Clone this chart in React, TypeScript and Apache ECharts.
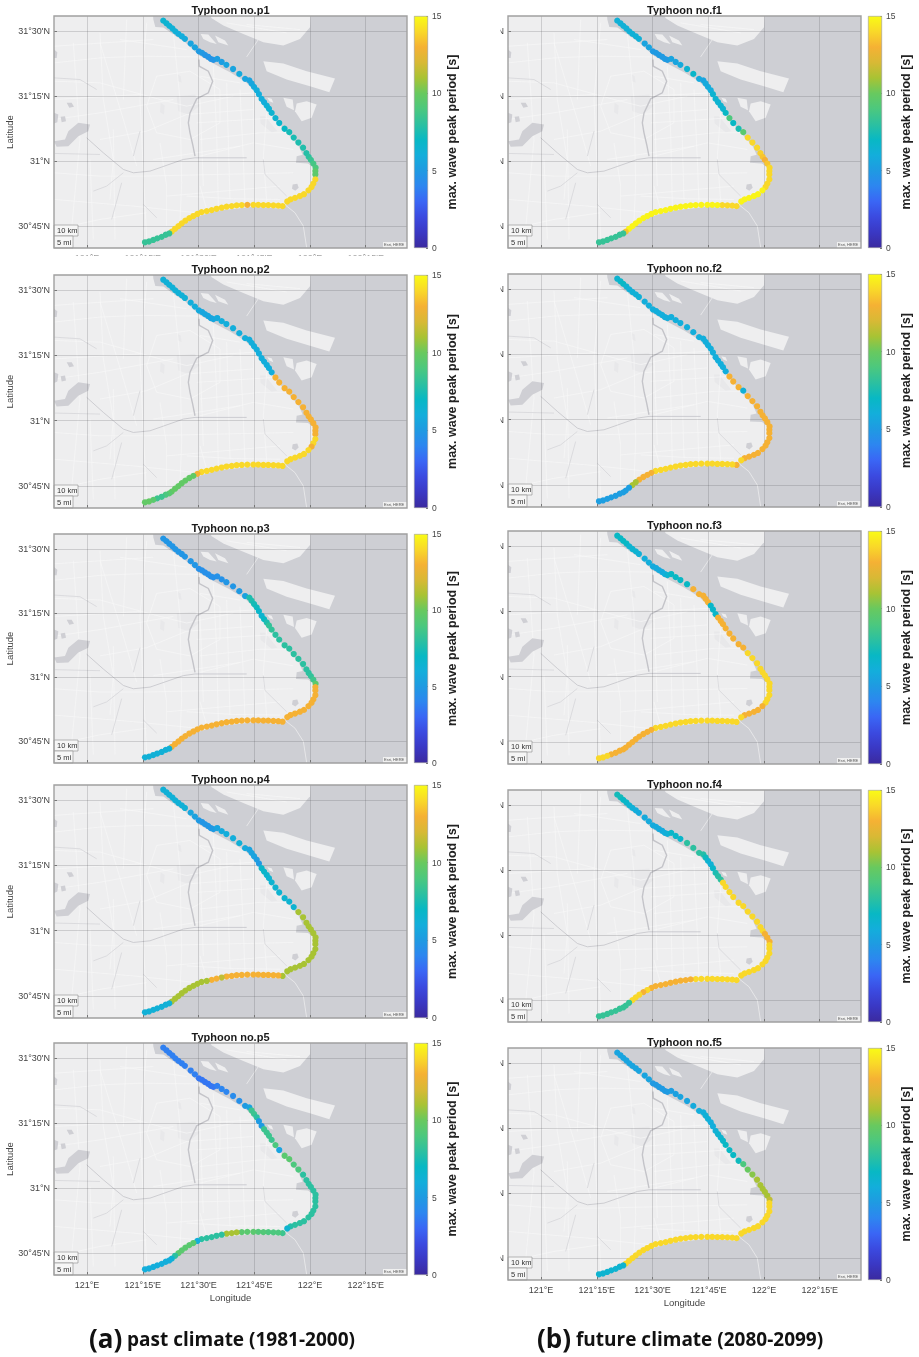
import React, { useEffect, useRef } from "react";
import * as echarts from "echarts";

const PANEL_NAMES = ["p1", "p2", "p3", "p4", "p5", "f1", "f2", "f3", "f4", "f5"];
const LON_TICKS = [121, 121.25, 121.5, 121.75, 122, 122.25];
const LAT_TICKS = [30.75, 31, 31.25, 31.5];
const BAR_LABELS = [0, 5, 10, 15];
const CAPTIONS = [["(a)", "past climate (1981-2000)"], ["(b)", "future climate (2080-2099)"]];

const COAST_LON = [
  121.342, 121.356, 121.369, 121.383, 121.396, 121.41, 121.425, 121.439,
  121.465, 121.484,
  121.502, 121.516, 121.529, 121.543, 121.555, 121.567,
  121.584, 121.604, 121.625, 121.655, 121.683, 121.709,
  121.728, 121.738, 121.749, 121.761, 121.771, 121.783, 121.794, 121.806, 121.816, 121.828, 121.845,
  121.862, 121.886, 121.907, 121.927, 121.948, 121.969, 121.984,
  121.994, 122.004, 122.015, 122.025, 122.024, 122.024, 122.024, 122.015, 122.007,
  121.993, 121.973, 121.955, 121.933, 121.913, 121.898,
  121.877, 121.858, 121.836, 121.813, 121.791, 121.768, 121.746, 121.719, 121.694, 121.671, 121.649, 121.626, 121.604,
  121.581, 121.559, 121.537, 121.514, 121.495, 121.477, 121.459, 121.441, 121.425, 121.41, 121.395, 121.38,
  121.369, 121.353, 121.335, 121.315, 121.297, 121.278, 121.26,
];
const COAST_LAT = [
  31.54, 31.53, 31.52, 31.51, 31.499, 31.489, 31.48, 31.47,
  31.452, 31.437,
  31.422, 31.416, 31.408, 31.401, 31.393, 31.389,
  31.393, 31.381, 31.37, 31.354, 31.335, 31.316,
  31.31, 31.298, 31.285, 31.272, 31.257, 31.239, 31.226, 31.213, 31.201, 31.185, 31.165,
  31.146, 31.124, 31.111, 31.09, 31.071, 31.051, 31.03,
  31.016, 31.004, 30.99, 30.974, 30.961, 30.948, 30.929, 30.913, 30.9,
  30.887, 30.872, 30.865, 30.858, 30.852, 30.844,
  30.826, 30.828, 30.829, 30.83, 30.83, 30.831, 30.831, 30.831, 30.83, 30.829, 30.826, 30.824, 30.82,
  30.816, 30.811, 30.807, 30.803, 30.796, 30.788, 30.78, 30.77, 30.76, 30.749, 30.739, 30.728,
  30.721, 30.716, 30.708, 30.702, 30.696, 30.69, 30.687,
];

const P1 = [6.5, 6.5, 6.3, 6.2, 6.2, 6, 6, 5.8, 5.5, 5.5, 5, 5, 4.8, 4.7, 4.7, 4.7, 5.2, 5.2, 5.5, 5.5, 5.8, 5.5, 5.5, 5.6, 5.8, 6, 6, 6, 6, 6.2, 6.4, 6.5, 6.5, 6.8, 7, 7.4, 7.5, 7.6, 7.7, 7.8, 8, 8.4, 8.8, 9, 9.6, 9.6, 14, 14, 14, 14, 14, 14, 14, 14, 14, 14, 14, 14, 14, 14, 14, 14, 13, 14, 14, 14, 14, 14, 14, 14, 14, 14, 14, 14, 14, 14, 14, 14, 14, 14, 8.3, 8.3, 8.3, 8.3, 8.3, 8.3, 8.3];
const P2 = [6.2, 6.2, 6.2, 6.2, 6.2, 6.2, 6.2, 6.2, 6, 6, 5.8, 5.6, 5.6, 5.6, 5.5, 5.6, 5.8, 6, 6, 6, 6, 6, 6, 6, 6, 6, 6, 6, 6, 6, 6, 6, 13, 13, 13, 13, 13, 13, 13, 13, 13, 13, 13, 13, 13, 13, 14, 14, 13, 14, 14, 14, 14, 14, 14, 14, 14, 14, 14, 14, 14, 14, 14, 14, 14, 14, 14, 14, 14, 14, 14, 14, 13, 9.8, 9.8, 9.8, 9.8, 9.8, 9.8, 9.8, 9.5, 9, 8.5, 8.5, 9.5, 9.8, 9.8];
const P3 = [4.8, 4.8, 4.8, 4.8, 4.8, 4.8, 4.8, 4.8, 4.8, 4.8, 4.5, 4.5, 4.5, 4.5, 4.5, 4.5, 4.6, 4.6, 4.8, 4.8, 5, 5.4, 7.6, 7.6, 7.4, 7.2, 6.8, 6.5, 7, 7.6, 8.2, 8.2, 8, 8, 8, 8, 8, 8, 8, 8, 8, 8.2, 8.6, 9.6, 13, 13, 13, 13, 13, 13, 13, 13, 13, 13, 13, 13, 13, 13, 13, 13, 13, 13, 13, 13, 13, 13, 13, 13, 13, 13, 13, 13, 13, 13, 13, 13, 13, 13, 13, 13, 6.2, 6.2, 6.2, 6.2, 6.2, 6.2, 6.2];
const P4 = [6.2, 6.2, 6.2, 6.2, 6.2, 6.2, 6.2, 6.2, 5.6, 5.4, 5, 4.8, 4.8, 4.8, 4.8, 5, 5.5, 5.8, 6, 6, 6.2, 5.8, 5.5, 5.5, 5.5, 5.2, 5, 6.8, 6.8, 6.6, 6.5, 6.5, 6.5, 6.5, 6.5, 6.5, 6.5, 11, 11, 11, 11, 11, 11, 11, 11, 11, 11, 11, 11, 11, 11, 11, 11, 11, 11, 11, 13, 13, 13, 13, 13, 13, 13, 13, 13, 13, 13, 11.5, 13, 13, 11, 11, 11, 11, 11, 11, 11, 11, 11, 11, 6.2, 6.2, 6.2, 6.2, 6.2, 6.2, 6.2];
const P5 = [3.8, 3.8, 3.8, 3.8, 3.8, 3.8, 3.8, 3.8, 3.8, 3.8, 3.5, 3.5, 3.5, 3.5, 3.5, 3.5, 3.8, 4, 4, 4.3, 4.5, 5, 5.5, 8.5, 8.5, 8, 5, 5, 8.5, 8.5, 8.5, 8.5, 9, 5.5, 9.5, 9.5, 9, 9, 8, 8, 8, 8, 8, 8, 8, 8, 8, 8, 8, 8, 8, 8, 8, 7.8, 6.5, 8.5, 9, 9, 9, 9.2, 9.2, 9.5, 9.5, 9.5, 11, 11, 11, 8, 8, 8, 8, 8, 6, 9.5, 9.5, 9.5, 9.5, 9.5, 8, 6.5, 6, 6, 6, 6, 6, 6, 6];
const F1 = [6.2, 6.2, 6.2, 6.2, 6.2, 6.2, 6.2, 6.2, 5.5, 5.5, 5, 5, 5, 5, 5, 5, 5.5, 5.5, 5.8, 6.5, 6.8, 5.8, 5.5, 5.8, 5.8, 6, 6.5, 6.5, 6.5, 6.5, 6.5, 7, 9, 7, 7.5, 9.5, 14, 14, 14, 13.8, 13.5, 13, 13.5, 14, 14, 14, 14, 14, 14, 14.8, 14.8, 14.8, 14.8, 14.8, 14.8, 14, 14, 14, 14, 14.8, 14.8, 14.8, 14.8, 14.8, 14.8, 14.8, 14.8, 14.8, 14.8, 14.8, 14.8, 14.8, 14.8, 14.8, 14.8, 14.8, 14.8, 14.8, 14.8, 13.5, 8.3, 8.3, 8.3, 8.3, 8.3, 8.3, 8.3];
const F2 = [6.5, 6.8, 7, 6.5, 6.2, 6.2, 6.2, 6.2, 6, 6, 6, 6, 6, 6, 6, 6, 6, 6, 6, 6, 6, 6, 6, 6, 6, 6, 6, 6, 6, 6, 6, 6, 13, 13, 13, 6.2, 13, 13, 13, 13, 13, 13, 13, 13, 13, 13, 13, 13, 13, 13, 13, 13, 13, 13, 14, 13, 14, 14, 14, 14, 14, 14, 14, 14, 14, 14, 14, 14, 14, 14, 14, 14, 13, 13, 13, 13, 11, 11, 5.2, 5.2, 5.2, 5.2, 5.2, 5.2, 5.2, 5.2, 5.2];
const F3 = [7, 7, 7, 7, 6.5, 6.5, 6.5, 6.2, 6, 6, 5.8, 5.8, 5.8, 5.8, 6, 6.5, 7, 7, 7, 7, 13, 13, 13, 13, 13, 6.8, 6.8, 6.8, 13, 13, 13, 13, 13, 13, 13, 13, 14, 14, 14, 14, 14, 14, 14, 14, 14, 14, 14, 14, 14, 13, 13, 13, 13, 13, 14, 14, 14, 14, 14, 14, 14, 14, 14, 14, 14, 14, 14, 14, 14, 14, 14, 14, 13, 13, 13, 13, 13, 13, 13, 13, 13, 13, 13, 13, 14, 14, 14];
const F4 = [7.3, 7.3, 7, 6.8, 6.5, 6.2, 6, 5.8, 5.8, 5.8, 5.8, 5.8, 5.8, 5.8, 6, 6.2, 6.8, 6.8, 6.8, 8, 8, 8, 7.8, 7.2, 6.5, 6.2, 6.8, 7.5, 7.8, 8, 14, 14, 14, 14, 14, 14, 14, 14, 14, 14, 14, 13, 13, 13, 14, 14, 14, 14, 14, 14, 14, 14, 14, 14, 14, 14, 14, 14, 14, 14, 14, 14, 14, 14, 13, 13, 13, 13, 13, 13, 13, 13, 13, 14, 13, 14, 14, 14, 8.3, 8.3, 8.3, 8.3, 8.3, 8.3, 8.3, 8.3, 8.3];
const F5 = [5.5, 5.5, 5.5, 5.5, 5.5, 5.5, 5.5, 5.5, 5.5, 5.5, 5, 5, 5, 5, 5, 5, 5.2, 5.3, 5.5, 5.5, 5.8, 6, 6, 6.2, 6.2, 6, 6, 6.2, 6.5, 6.5, 6.8, 7, 7, 7, 7.2, 9, 10, 10.5, 11, 11, 11, 11, 11, 11.5, 14, 14, 14, 14, 14, 14, 14, 14, 14, 14, 14, 14, 14, 14, 14, 14, 14, 14, 14, 14, 14, 14, 14, 14, 14, 14, 14, 14, 14, 14, 14, 14, 14, 14, 14, 14, 6.5, 6.5, 6.5, 6.5, 6.5, 6.5, 6.5];
const PANEL_VALUES = [P1, P2, P3, P4, P5, F1, F2, F3, F4, F5];

// Base map, hand-traced on a sheet; TRACE converts sheet units to lon/lat.
const TRACE = (p: number[]) => [121 + (p[0] - 261) / 669, 31 + (484.5 - p[1]) / 780];
const LAND = [
  [[130, 30], [458, 30], [460, 60], [466, 82], [490, 84], [520, 105], [555, 128], [598, 168], [640, 192], [690, 218], [735, 246], [765, 275], [800, 325], [850, 388], [895, 438], [908, 466], [890, 470], [888, 490], [924, 492], [948, 510], [948, 545], [925, 578], [900, 595], [862, 610], [850, 628], [760, 622], [650, 634], [580, 655], [520, 698], [430, 738], [428, 760], [130, 760]],
  [[630, 30], [634, 55], [670, 78], [730, 103], [790, 128], [850, 138], [900, 118], [930, 83], [932, 30]],
  [[790, 185], [850, 192], [920, 215], [1005, 237], [988, 278], [935, 262], [860, 240], [800, 215]],
  [[850, 295], [878, 300], [882, 332], [860, 322]],
  [[890, 312], [920, 305], [950, 315], [935, 355], [905, 365], [885, 335]],
  [[802, 295], [815, 298], [820, 310], [808, 305]],
  [[602, 103], [625, 105], [650, 133], [630, 128], [610, 118]],
  [[645, 108], [675, 123], [685, 138], [655, 128]],
];
const LAKES = [
  [[205, 395], [235, 370], [270, 375], [265, 395], [235, 410], [205, 440], [170, 442], [162, 425], [195, 420]],
  [[162, 150], [172, 158], [170, 175], [162, 175]],
  [[162, 340], [175, 345], [172, 368], [162, 372]],
  [[200, 310], [215, 310], [222, 322], [208, 325]],
  [[182, 352], [195, 350], [198, 365], [185, 368]],
  [[878, 555], [892, 553], [896, 565], [886, 574], [876, 568]],
];
const PALE_PATCHES = [
  [[530, 290], [585, 285], [598, 320], [565, 345], [535, 335]],
  [[482, 310], [494, 318], [492, 345], [480, 338]],
  [[532, 225], [542, 230], [545, 250], [534, 245]],
  [[780, 350], [795, 350], [832, 395], [815, 398], [782, 372]],
];
const RIVERS = [
  [[597, 180], [598, 200], [625, 215], [638, 245], [625, 280], [590, 298], [570, 340], [565, 370], [570, 400], [578, 435], [585, 470]],
  [[260, 415], [310, 460], [370, 510], [400, 520], [450, 515], [550, 480], [585, 475], [740, 475]],
  [[370, 520], [320, 560], [280, 575]],
  [[365, 550], [335, 660]],
  [[430, 615], [470, 655]],
  [[400, 470], [420, 395]],
  [[790, 480], [795, 525], [860, 590]],
  [[165, 462], [300, 465]],
  [[162, 235], [240, 240], [290, 270]],
];
const ROADS = [
  [[162, 190], [300, 175], [420, 170], [600, 172]],
  [[162, 245], [300, 250], [480, 300], [560, 320], [700, 290]],
  [[300, 420], [440, 395], [560, 345], [760, 330]],
  [[162, 600], [400, 620], [590, 640]],
  [[430, 530], [650, 525], [880, 520]],
  [[560, 590], [700, 598], [840, 600]],
  [[300, 100], [310, 300], [340, 480], [330, 600]],
  [[440, 70], [420, 300], [430, 520], [440, 715]],
  [[520, 100], [540, 300], [545, 550], [540, 670]],
  [[640, 200], [650, 400], [655, 620]],
  [[720, 270], [730, 480], [735, 610]],
  [[800, 340], [790, 470], [800, 605]],
  [[470, 230], [570, 215], [660, 270], [660, 370], [570, 420], [470, 400], [440, 320], [470, 230]],
  [[360, 120], [560, 150]],
  [[162, 360], [300, 340], [520, 300]],
  [[300, 130], [370, 360], [410, 500]],
  [[162, 520], [300, 530], [430, 530]],
  [[162, 690], [300, 660], [440, 640]],
  [[600, 420], [780, 400], [870, 400]],
  [[600, 470], [760, 430], [880, 450]],
  [[480, 430], [500, 560], [500, 680]],
  [[600, 560], [620, 630]],
  [[220, 130], [240, 420], [210, 740]],
  [[680, 70], [860, 100]],
  [[162, 140], [460, 120]],
  [[162, 300], [420, 285]],
  [[380, 60], [370, 300]],
  [[600, 230], [720, 250]],
  [[590, 290], [770, 280]],
  [[590, 370], [830, 355]],
  [[680, 250], [690, 600]],
  [[760, 290], [765, 610]],
  [[600, 300], [610, 560]],
  [[340, 390], [345, 720]],
  [[270, 480], [280, 720]],
  [[460, 480], [720, 440]],
  [[500, 590], [840, 560]],
  [[740, 75], [900, 90]],
];
const BRIDGES = [
  [[850, 612], [885, 640], [910, 680], [920, 745]],
  [[775, 120], [740, 172]],
];

const COLORS = ["#3b2a9f", "#3a38c4", "#3b4ae0", "#3a66f5", "#2d86f0", "#1f9ae2", "#13aedb", "#08b8c4", "#2cc0a0", "#4cc87e", "#68c95f", "#a8c334", "#d8b935", "#f5b134", "#f9d829", "#f9fb15"];

// page layout of the plots: [left, top, bottom]
const BOXES = [
  [54, 16, 248], [54, 275, 508], [54, 534, 763], [54, 785, 1018], [54, 1043, 1275],
  [508, 16, 248], [508, 274, 507], [508, 531, 764], [508, 790, 1022], [508, 1048, 1280],
];
const PLOT_W = 353;
const BAR_GAP = 7;
const BAR_W = 14;
const LON_RANGE = [120.852, 122.435];
const LAT_RANGE = [30.665, 31.558];
const INK = "#444444";
const FONT = "'Liberation Sans', Arial, sans-serif";

const latLabel = (v: number) => {
  const d = Math.floor(v + 1e-6);
  const m = Math.round((v - d) * 60);
  return m ? `${d}°${m}'N` : `${d}°N`;
};
const lonLabel = (v: number) => {
  const d = Math.floor(v + 1e-6);
  const m = Math.round((v - d) * 60);
  return m ? `${d}°${m}'E` : `${d}°E`;
};

function renderMap(_: any, api: any) {
  const pts = (list: number[][]) => list.map((p) => api.coord(TRACE(p)));
  const children: any[] = [];
  LAND.forEach((l) => children.push({ type: "polygon", shape: { points: pts(l) }, style: { fill: "#eeeeef", stroke: null } }));
  PALE_PATCHES.forEach((l) => children.push({ type: "polygon", shape: { points: pts(l) }, style: { fill: "#e8e8ea" } }));
  ROADS.forEach((l) => children.push({ type: "polyline", shape: { points: pts(l) }, style: { stroke: "#f9f9f9", lineWidth: 0.6, fill: null } }));
  RIVERS.forEach((l, i) => children.push({ type: "polyline", shape: { points: pts(l) }, style: { stroke: i < 2 ? "#c4c4c9" : "#d6d6d9", lineWidth: i < 1 ? 1.4 : 0.8, fill: null } }));
  LAKES.forEach((l) => children.push({ type: "polygon", shape: { points: pts(l) }, style: { fill: "#cfcfd4" } }));
  BRIDGES.forEach((l) => children.push({ type: "polyline", shape: { points: pts(l) }, style: { stroke: "#ececee", lineWidth: 0.8, fill: null } }));
  return { type: "group", children };
}

function buildOption() {
  const grid: any[] = [], xAxis: any[] = [], yAxis: any[] = [], series: any[] = [], title: any[] = [], graphic: any[] = [];
  const scatterIdx: number[] = [];
  const gradient = {
    type: "linear", x: 0, y: 1, x2: 0, y2: 0,
    colorStops: COLORS.map((color, i) => ({ offset: i / (COLORS.length - 1), color })),
  };
  const points = COAST_LON.map((lon, i) => [lon, COAST_LAT[i]]);

  BOXES.forEach(([left, top, bottom], i) => {
    const isLeftCol = i < 5;
    const isLast = i === 4 || i === 9;
    const showX = isLast || i === 0;
    const h = bottom - top;
    const a = i * 2;
    grid.push({ left, top, width: PLOT_W, height: h, show: true, backgroundColor: "#cecfd4", borderWidth: 0 });
    grid.push({ left: left + PLOT_W + BAR_GAP, top, width: BAR_W, height: h, show: false });
    xAxis.push({
      gridIndex: a, type: "value", min: LON_RANGE[0], max: LON_RANGE[1], z: 2,
      name: isLast ? "Longitude" : "", nameLocation: "middle", nameGap: 17,
      nameTextStyle: { fontFamily: FONT, fontSize: 9.5, color: INK },
      axisLine: { show: false },
      axisTick: { show: true, inside: true, length: 3, lineStyle: { color: "#777" }, customValues: LON_TICKS },
      axisLabel: { show: showX, margin: 5, fontFamily: FONT, fontSize: 9, color: INK, formatter: lonLabel, customValues: LON_TICKS, hideOverlap: false },
      splitLine: { show: true, lineStyle: { color: "rgba(85,85,90,0.22)", width: 1 } },
    });
    xAxis.push({ gridIndex: a + 1, type: "category", data: ["bar"], show: false });
    yAxis.push({
      gridIndex: a, type: "value", min: LAT_RANGE[0], max: LAT_RANGE[1], z: 2,
      name: isLeftCol ? "Latitude" : "", nameLocation: "middle", nameGap: 37, nameRotate: 90,
      nameTextStyle: { fontFamily: FONT, fontSize: 9.5, color: INK },
      axisLine: { show: false },
      axisTick: { show: true, inside: true, length: 3, lineStyle: { color: "#777" }, customValues: LAT_TICKS },
      axisLabel: { show: true, margin: 4, fontFamily: FONT, fontSize: 9, color: INK, formatter: latLabel, customValues: LAT_TICKS },
      splitLine: { show: true, lineStyle: { color: "rgba(85,85,90,0.22)", width: 1 } },
    });
    yAxis.push({
      gridIndex: a + 1, type: "value", position: "right", min: 0, max: 15, interval: 5,
      name: "max. wave peak period [s]", nameLocation: "middle", nameGap: 17, nameRotate: 90,
      nameTextStyle: { fontFamily: FONT, fontSize: 12.5, fontWeight: "bold", color: "#222" },
      axisLine: { show: false },
      axisTick: { show: true, inside: true, length: 2, lineStyle: { color: "#777" }, customValues: BAR_LABELS },
      axisLabel: { margin: 4, fontFamily: FONT, fontSize: 8.5, color: INK },
      splitLine: { show: false },
    });
    series.push({
      type: "custom", coordinateSystem: "cartesian2d", xAxisIndex: a, yAxisIndex: a, z: 1, silent: true,
      clip: true, data: [[0]], renderItem: renderMap, encode: { x: 0, y: 0 },
    });
    scatterIdx.push(series.length);
    series.push({
      type: "scatter", xAxisIndex: a, yAxisIndex: a, z: 3, symbolSize: 6.2, silent: true,
      data: points.map((p, k) => [p[0], p[1], PANEL_VALUES[i][k]]),
      itemStyle: { opacity: 1 },
    });
    series.push({
      type: "bar", xAxisIndex: a + 1, yAxisIndex: a + 1, barWidth: "100%", silent: true, z: 1,
      data: [15], itemStyle: { color: gradient, borderColor: "#9a9a9a", borderWidth: 0.6 },
    });
    title.push({
      text: `Typhoon no.${PANEL_NAMES[i]}`, left: left + PLOT_W / 2, top: top - 12, padding: 0, textAlign: "center",
      textStyle: { fontFamily: FONT, fontSize: 11, fontWeight: "bold", color: "#1a1a1a" },
    });

    // right column: the neighbouring picture hides all but the tail of the latitude labels
    if (!isLeftCol) {
      graphic.push({ type: "rect", z: 90, shape: { x: 461, y: top - 6, width: 39.5, height: h + 12 }, style: { fill: "#fff" } });
    }
    // map frame
    graphic.push({ type: "rect", z: 92, shape: { x: left, y: top, width: PLOT_W, height: h }, style: { fill: "none", stroke: "#a0a0a0", lineWidth: 1.4 } });
    // scale bars
    const sy = bottom - 23;
    graphic.push({ type: "rect", z: 91, shape: { x: left, y: sy, width: 24, height: 11 }, style: { fill: "#f6f6f6", stroke: "#8a8a8a", lineWidth: 0.6 } });
    graphic.push({ type: "rect", z: 91, shape: { x: left, y: sy + 11, width: 19, height: 12 }, style: { fill: "#f6f6f6", stroke: "#8a8a8a", lineWidth: 0.6 } });
    graphic.push({ type: "text", z: 93, x: left + 3, y: sy + 1.5, style: { text: "10 km", fontFamily: FONT, fontSize: 7.5, fill: "#333" } });
    graphic.push({ type: "text", z: 93, x: left + 3, y: sy + 13, style: { text: "5 mi", fontFamily: FONT, fontSize: 7.5, fill: "#333" } });
    // attribution
    graphic.push({ type: "rect", z: 91, shape: { x: left + PLOT_W - 24, y: bottom - 6, width: 24, height: 6 }, style: { fill: "#f0f0f0" } });
    graphic.push({ type: "text", z: 93, x: left + PLOT_W - 23, y: bottom - 5.2, style: { text: "Esri, HERE", fontFamily: FONT, fontSize: 4, fill: "#555" } });
  });

  // the p1 longitude labels are cut off by panel p2's picture
  graphic.push({ type: "rect", z: 90, shape: { x: 50, y: 255.5, width: 370, height: 7 }, style: { fill: "#fff" } });

  const captionY = 1338;
  [[89, 127], [537, 576]].forEach(([x1, x2], i) => {
    graphic.push({ type: "text", z: 95, x: x1, y: captionY, style: { text: CAPTIONS[i][0], fontFamily: "'Open Sans', sans-serif", fontWeight: "bold", fontSize: 26, fill: "#111", verticalAlign: "middle" } });
    graphic.push({ type: "text", z: 95, x: x2, y: captionY + 1, style: { text: CAPTIONS[i][1], fontFamily: "'Open Sans', sans-serif", fontWeight: "bold", fontSize: 19, fill: "#111", verticalAlign: "middle" } });
  });

  return {
    animation: false,
    backgroundColor: "#ffffff",
    grid, xAxis, yAxis, series, title, graphic,
    visualMap: [{
      type: "continuous", show: false, min: 0, max: 15, dimension: 2,
      seriesIndex: scatterIdx, inRange: { color: COLORS },
    }],
  };
}

export default function App() {
  const ref = useRef<HTMLDivElement>(null);
  useEffect(() => {
    const chart = echarts.init(ref.current!, undefined, { renderer: "svg" });
    chart.setOption(buildOption() as any);
    return () => chart.dispose();
  }, []);
  return <div ref={ref} style={{ position: "absolute", left: 0, top: 0, width: 919, height: 1357, filter: "blur(0.4px)" }} />;
}
